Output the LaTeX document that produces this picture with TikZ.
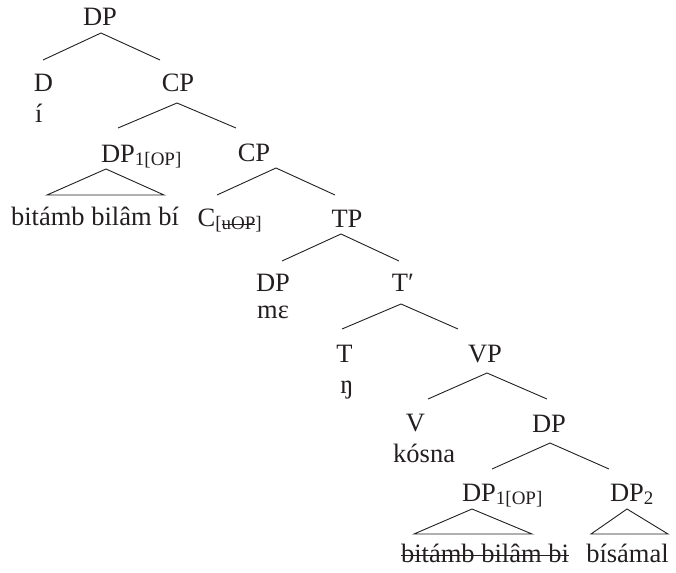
\documentclass[tikz,border=0pt]{standalone}
\usepackage{fontspec}
\setmainfont{Liberation Serif}
\definecolor{ink}{HTML}{231F20}

% struck-through text
\newsavebox{\strikebox}
\newcommand{\xstrike}[1]{\sbox\strikebox{#1}\rlap{\rule[0.22em]{\wd\strikebox}{0.05em}}\usebox\strikebox}
% lowered, smaller index on a category label
\newcommand{\subs}[1]{\raisebox{-3pt}{\fontsize{19}{20}\selectfont #1}}

\tikzset{
  cat/.style={anchor=base, inner sep=0pt, text=ink, font=\fontsize{26.5}{30}\selectfont},
  leaf/.style={cat},
  leafw/.style={cat, anchor=base west},
  edge/.style={draw=ink, line width=0.9pt, line join=miter},
}

\begin{document}
\begin{tikzpicture}[x=1pt, y=-1pt]
\useasboundingbox (0,0) rectangle (676,572);

% ---- labels ----
\node[cat] (dp0) at (100,26) {DP};
\node[cat] (d) at (43.5,92) {D};
\node[leafw] (di) at (35,123) {í};
\node[cat] (cp1) at (178,92) {CP};
\node[cat] (dpa) at (118,162) {DP\rlap{\subs{1[OP]}}};
\node[cat] (cp2) at (254,161) {CP};
\node[leaf] (leafa) at (95,225) {bitámb bilâm bí};
\node[cat] (c) at (206.5,226) {C\rlap{\subs{[\xstrike{uOP}]}}};
\node[cat] (tp) at (347,227) {TP};
\node[cat] (dps) at (273,291) {DP};
\node[leafw] (me) at (257,318) {mɛ};
\node[cat] (tbar) at (400,291) {T\rlap{′}};
\node[cat] (t) at (344.5,362) {T};
\node[leaf] (eng) at (347,393) {ŋ};
\node[cat] (vp) at (485,362) {VP};
\node[cat] (v) at (415.5,431) {V};
\node[leafw] (kosna) at (393,462) {kósna};
\node[cat] (dpo) at (549,432) {DP};
\node[cat] (dpb) at (479,501) {DP\rlap{\subs{1[OP]}}};
\node[cat] (dp2) at (627,501) {DP\rlap{\subs{2}}};
\node[leaf] (leafb) at (485,562) {\xstrike{bitámb bilâm bi}};
\node[leaf] (leafc) at (627.5,562) {bísámal};

% ---- branch points ----
\coordinate (dp0-bot) at (101,33);
\coordinate (d-top) at (43,60);
\coordinate (cp1-top) at (160,60);
\coordinate (cp1-bot) at (177,103);
\coordinate (dpa-top) at (118,128);
\coordinate (cp2-top) at (236,128);
\coordinate (cp2-bot) at (276,168);
\coordinate (c-top) at (217,195);
\coordinate (tp-top) at (335,195);
\coordinate (tp-bot) at (341,234);
\coordinate (dps-top) at (282,261);
\coordinate (tbar-top) at (399,261);
\coordinate (tbar-bot) at (401,304);
\coordinate (t-top) at (342,329);
\coordinate (vp-top) at (458,329);
\coordinate (vp-bot) at (487,373);
\coordinate (v-top) at (428,399);
\coordinate (dpo-top) at (547,399);
\coordinate (dpo-bot) at (550,443);
\coordinate (dpb-top) at (492,469);
\coordinate (dp2-top) at (609,469);

% triangle corners
\coordinate (dpa-apex) at (106,169);
\coordinate (dpa-l) at (47,195);
\coordinate (dpa-r) at (164,195);
\coordinate (dpb-apex) at (472,509);
\coordinate (dpb-l) at (414,534);
\coordinate (dpb-r) at (532,534);
\coordinate (dp2-apex) at (627,509);
\coordinate (dp2-l) at (591,534);
\coordinate (dp2-r) at (668,534);

% ---- branches ----
\draw[edge] (d-top) -- (dp0-bot) -- (cp1-top);
\draw[edge] (dpa-top) -- (cp1-bot) -- (cp2-top);
\draw[edge] (c-top) -- (cp2-bot) -- (tp-top);
\draw[edge] (dps-top) -- (tp-bot) -- (tbar-top);
\draw[edge] (t-top) -- (tbar-bot) -- (vp-top);
\draw[edge] (v-top) -- (vp-bot) -- (dpo-top);
\draw[edge] (dpb-top) -- (dpo-bot) -- (dp2-top);

% ---- roof triangles ----
\draw[edge] (dpa-apex) -- (dpa-l) -- (dpa-r) -- cycle;
\draw[edge] (dpb-apex) -- (dpb-l) -- (dpb-r) -- cycle;
\draw[edge] (dp2-apex) -- (dp2-l) -- (dp2-r) -- cycle;
\end{tikzpicture}
\end{document}
